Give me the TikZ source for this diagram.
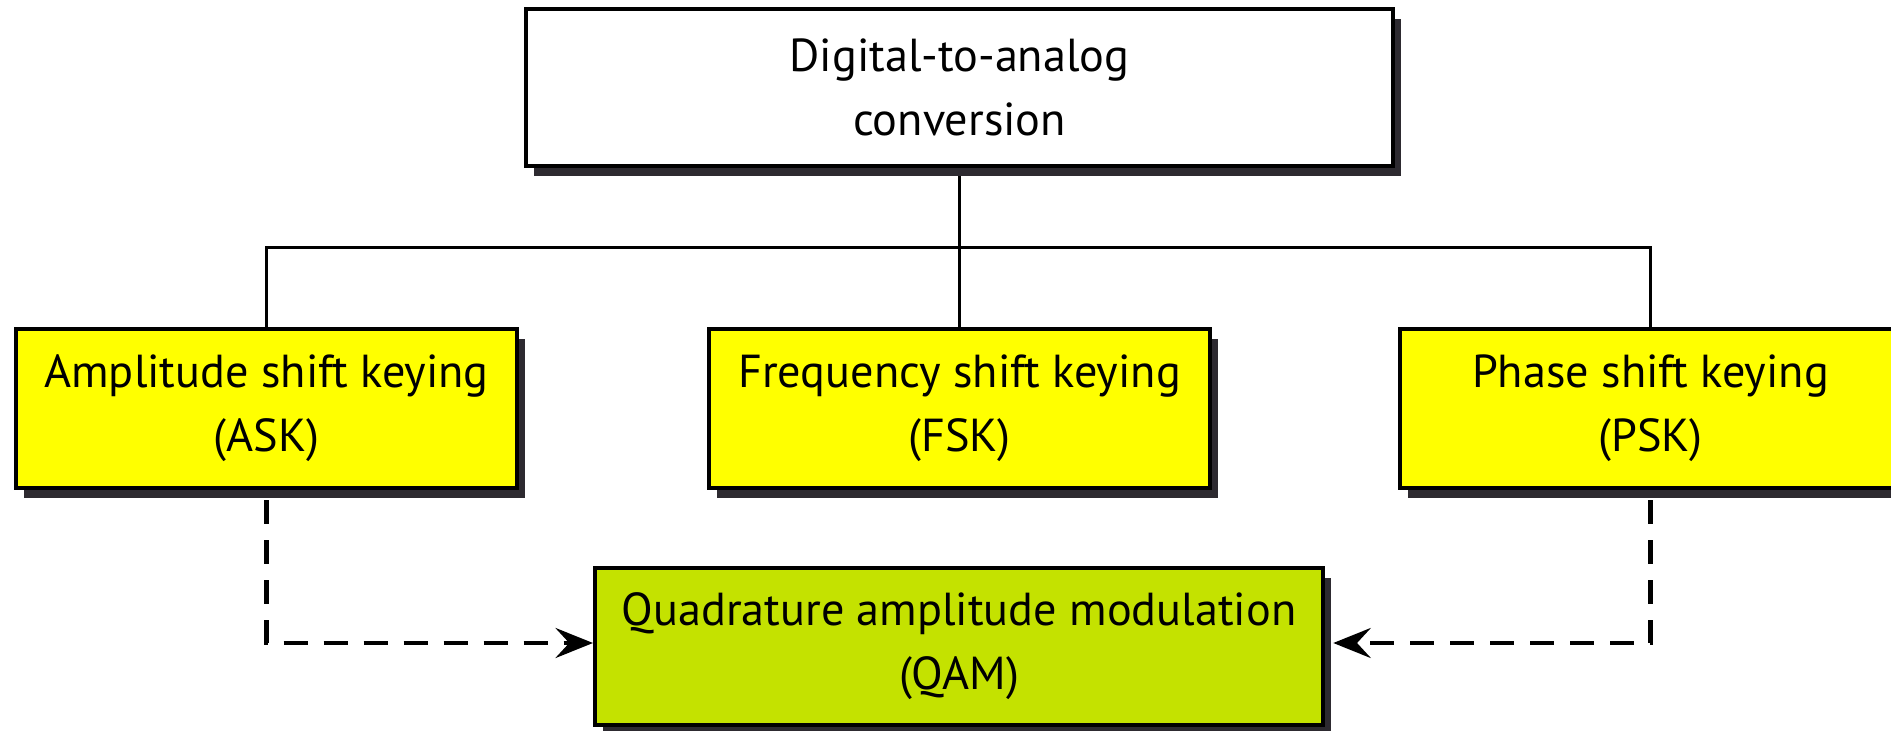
\documentclass[tikz,border=0pt]{standalone}
\usepackage{fontspec}
\setmainfont{PT Sans}
\usetikzlibrary{shadows,arrows.meta,backgrounds}
\definecolor{boxyellow}{RGB}{255,255,0}
\definecolor{qamgreen}{RGB}{196,226,0}
\definecolor{shadowgray}{RGB}{45,42,48}
\begin{document}
\begin{tikzpicture}[x=0.4pt,y=-0.4pt,
  blk/.style={draw=black, line width=1.6pt, rectangle, inner sep=0pt,
    align=center, font=\fontsize{18.5}{25.6}\selectfont,
    drop shadow={shadow xshift=3.3pt, shadow yshift=-4pt, fill=shadowgray, opacity=1}},
  keybox/.style={blk, fill=boxyellow, minimum width=200.4pt, minimum height=63.6pt},
  tree/.style={line width=1.4pt, draw=black},
  dashlink/.style={line width=1.8pt, draw=black, dash pattern=on 9.6pt off 6.4pt,
    -{Stealth[length=15pt,width=12pt,inset=5.5pt]}}]
\useasboundingbox (0,0) rectangle (1891,731);
\node[blk, fill=white, minimum width=346.8pt, minimum height=62.8pt] (top) at (959.5,87.5) {Digital-to-analog\\conversion};
\node[keybox] (ask) at (266.5,408.5) {Amplitude shift keying\\(ASK)};
\node[keybox] (fsk) at (959.5,408.5) {Frequency shift keying\\(FSK)};
\node[keybox] (psk) at (1650.5,408.5) {Phase shift keying\\(PSK)};
\node[blk, fill=qamgreen, minimum width=291.2pt, minimum height=62.8pt] (qam) at (959,646.5) {Quadrature amplitude modulation\\(QAM)};
\coordinate (bus) at (0,247.5);
\coordinate (ay) at (0,643);
\coordinate (qr) at ([xshift=3.3pt]qam.east);
\begin{scope}[on background layer]
  \fill[white] (0,0) rectangle (1891,731);
  \draw[tree] (top.south) -- (fsk.north);
  \draw[tree] (ask.north) -- (ask.north |- bus) -- (psk.north |- bus) -- (psk.north);
\end{scope}
\draw[dashlink] ([yshift=-4pt]ask.south) -- (ask.south |- ay) -- (qam.west |- ay);
\draw[dashlink] ([yshift=-4pt]psk.south) -- (psk.south |- ay) -- (qr |- ay);
\end{tikzpicture}
\end{document}
